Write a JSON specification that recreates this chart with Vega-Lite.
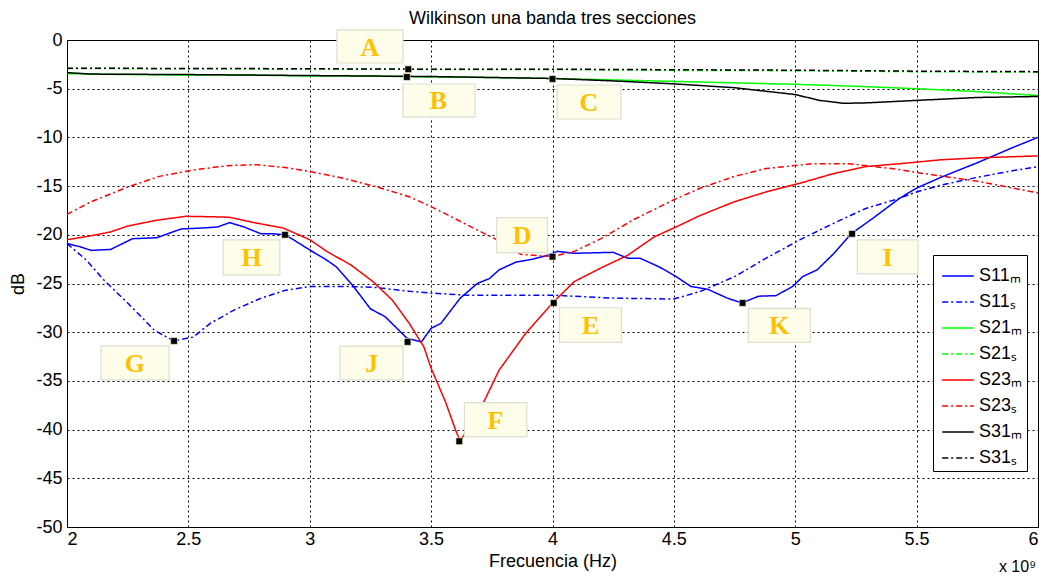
{
  "$schema": "https://vega.github.io/schema/vega-lite/v6.json",
  "width": 971,
  "height": 487,
  "autosize": {"type": "none"},
  "padding": {"left": 67, "top": 40, "right": 8, "bottom": 51},
  "background": "white",
  "title": {"text": "Wilkinson una banda tres secciones", "font": "Liberation Sans", "fontSize": 18, "fontWeight": "normal", "color": "#000", "offset": 1},
  "config": {
    "view": {"stroke": "#000", "strokeWidth": 1},
    "axis": {"labelFont": "Liberation Sans", "titleFont": "Liberation Sans", "labelFontSize": 18, "titleFontSize": 18, "titleFontWeight": "normal", "labelColor": "#000", "titleColor": "#000", "domainColor": "#000", "gridColor": "#000", "gridDash": [2, 3], "gridOpacity": 1, "ticks": false}
  },
  "datasets": {
    "curves": [
      {"s":"S11_M","f":2.0,"db":-20.9},{"s":"S11_M","f":2.05,"db":-21.2},{"s":"S11_M","f":2.1,"db":-21.6},{"s":"S11_M","f":2.18,"db":-21.5},{"s":"S11_M","f":2.27,"db":-20.4},{"s":"S11_M","f":2.37,"db":-20.3},{"s":"S11_M","f":2.47,"db":-19.4},{"s":"S11_M","f":2.56,"db":-19.3},{"s":"S11_M","f":2.62,"db":-19.2},{"s":"S11_M","f":2.67,"db":-18.75},{"s":"S11_M","f":2.73,"db":-19.2},{"s":"S11_M","f":2.8,"db":-19.9},{"s":"S11_M","f":2.85,"db":-19.9},{"s":"S11_M","f":2.9,"db":-20.0},{"s":"S11_M","f":2.99,"db":-21.4},{"s":"S11_M","f":3.07,"db":-22.6},{"s":"S11_M","f":3.11,"db":-23.3},{"s":"S11_M","f":3.18,"db":-25.3},{"s":"S11_M","f":3.25,"db":-27.6},{"s":"S11_M","f":3.31,"db":-28.4},{"s":"S11_M","f":3.4,"db":-30.6},{"s":"S11_M","f":3.46,"db":-31.0},{"s":"S11_M","f":3.5,"db":-29.6},{"s":"S11_M","f":3.54,"db":-29.1},{"s":"S11_M","f":3.62,"db":-26.5},{"s":"S11_M","f":3.69,"db":-25.0},{"s":"S11_M","f":3.74,"db":-24.5},{"s":"S11_M","f":3.78,"db":-23.6},{"s":"S11_M","f":3.85,"db":-22.8},{"s":"S11_M","f":3.92,"db":-22.5},{"s":"S11_M","f":3.98,"db":-22.1},{"s":"S11_M","f":4.02,"db":-21.7},{"s":"S11_M","f":4.09,"db":-21.9},{"s":"S11_M","f":4.25,"db":-21.8},{"s":"S11_M","f":4.31,"db":-22.4},{"s":"S11_M","f":4.36,"db":-22.4},{"s":"S11_M","f":4.44,"db":-23.3},{"s":"S11_M","f":4.51,"db":-24.3},{"s":"S11_M","f":4.57,"db":-25.3},{"s":"S11_M","f":4.64,"db":-25.6},{"s":"S11_M","f":4.72,"db":-26.5},{"s":"S11_M","f":4.78,"db":-27.0},{"s":"S11_M","f":4.85,"db":-26.3},{"s":"S11_M","f":4.92,"db":-26.25},{"s":"S11_M","f":4.99,"db":-25.3},{"s":"S11_M","f":5.03,"db":-24.3},{"s":"S11_M","f":5.09,"db":-23.6},{"s":"S11_M","f":5.16,"db":-21.9},{"s":"S11_M","f":5.23,"db":-19.9},{"s":"S11_M","f":5.32,"db":-18.3},{"s":"S11_M","f":5.43,"db":-16.25},{"s":"S11_M","f":5.5,"db":-15.2},{"s":"S11_M","f":5.6,"db":-14.1},{"s":"S11_M","f":5.75,"db":-12.6},{"s":"S11_M","f":5.9,"db":-11.0},{"s":"S11_M","f":6.0,"db":-10.0},
      {"s":"S11_S","f":2.0,"db":-20.9},{"s":"S11_S","f":2.08,"db":-22.6},{"s":"S11_S","f":2.15,"db":-24.6},{"s":"S11_S","f":2.25,"db":-27.0},{"s":"S11_S","f":2.36,"db":-29.8},{"s":"S11_S","f":2.44,"db":-30.9},{"s":"S11_S","f":2.52,"db":-30.5},{"s":"S11_S","f":2.59,"db":-29.1},{"s":"S11_S","f":2.69,"db":-27.7},{"s":"S11_S","f":2.8,"db":-26.5},{"s":"S11_S","f":2.9,"db":-25.7},{"s":"S11_S","f":3.0,"db":-25.3},{"s":"S11_S","f":3.14,"db":-25.3},{"s":"S11_S","f":3.27,"db":-25.4},{"s":"S11_S","f":3.41,"db":-25.8},{"s":"S11_S","f":3.51,"db":-26.0},{"s":"S11_S","f":3.65,"db":-26.2},{"s":"S11_S","f":4.0,"db":-26.2},{"s":"S11_S","f":4.25,"db":-26.5},{"s":"S11_S","f":4.5,"db":-26.6},{"s":"S11_S","f":4.61,"db":-25.8},{"s":"S11_S","f":4.75,"db":-24.3},{"s":"S11_S","f":4.88,"db":-22.4},{"s":"S11_S","f":5.02,"db":-20.5},{"s":"S11_S","f":5.16,"db":-18.8},{"s":"S11_S","f":5.29,"db":-17.3},{"s":"S11_S","f":5.43,"db":-16.25},{"s":"S11_S","f":5.5,"db":-15.6},{"s":"S11_S","f":5.6,"db":-14.9},{"s":"S11_S","f":5.75,"db":-14.1},{"s":"S11_S","f":5.9,"db":-13.4},{"s":"S11_S","f":6.0,"db":-13.0},
      {"s":"S21_M","f":2.0,"db":-3.45},{"s":"S21_M","f":2.25,"db":-3.55},{"s":"S21_M","f":2.5,"db":-3.6},{"s":"S21_M","f":2.75,"db":-3.6},{"s":"S21_M","f":3.0,"db":-3.7},{"s":"S21_M","f":3.25,"db":-3.7},{"s":"S21_M","f":3.5,"db":-3.8},{"s":"S21_M","f":3.75,"db":-3.85},{"s":"S21_M","f":4.0,"db":-3.95},{"s":"S21_M","f":4.25,"db":-4.1},{"s":"S21_M","f":4.5,"db":-4.25},{"s":"S21_M","f":4.75,"db":-4.4},{"s":"S21_M","f":5.0,"db":-4.55},{"s":"S21_M","f":5.25,"db":-4.75},{"s":"S21_M","f":5.5,"db":-5.0},{"s":"S21_M","f":5.75,"db":-5.3},{"s":"S21_M","f":6.0,"db":-5.7},
      {"s":"S21_S","f":2.0,"db":-2.93},{"s":"S21_S","f":2.5,"db":-2.95},{"s":"S21_S","f":3.0,"db":-2.98},{"s":"S21_S","f":3.5,"db":-3.02},{"s":"S21_S","f":4.0,"db":-3.03},{"s":"S21_S","f":4.5,"db":-3.12},{"s":"S21_S","f":5.0,"db":-3.15},{"s":"S21_S","f":5.5,"db":-3.25},{"s":"S21_S","f":6.0,"db":-3.3},
      {"s":"S23_M","f":2.0,"db":-20.5},{"s":"S23_M","f":2.1,"db":-20.1},{"s":"S23_M","f":2.18,"db":-19.7},{"s":"S23_M","f":2.25,"db":-19.1},{"s":"S23_M","f":2.37,"db":-18.5},{"s":"S23_M","f":2.49,"db":-18.1},{"s":"S23_M","f":2.6,"db":-18.15},{"s":"S23_M","f":2.67,"db":-18.2},{"s":"S23_M","f":2.77,"db":-18.75},{"s":"S23_M","f":2.89,"db":-19.3},{"s":"S23_M","f":3.0,"db":-20.5},{"s":"S23_M","f":3.07,"db":-21.7},{"s":"S23_M","f":3.17,"db":-23.1},{"s":"S23_M","f":3.26,"db":-24.8},{"s":"S23_M","f":3.34,"db":-26.7},{"s":"S23_M","f":3.41,"db":-29.1},{"s":"S23_M","f":3.47,"db":-31.5},{"s":"S23_M","f":3.5,"db":-33.7},{"s":"S23_M","f":3.56,"db":-37.2},{"s":"S23_M","f":3.6,"db":-40.0},{"s":"S23_M","f":3.62,"db":-41.2},{"s":"S23_M","f":3.66,"db":-39.5},{"s":"S23_M","f":3.72,"db":-37.0},{"s":"S23_M","f":3.78,"db":-33.9},{"s":"S23_M","f":3.89,"db":-30.1},{"s":"S23_M","f":4.0,"db":-27.0},{"s":"S23_M","f":4.09,"db":-24.8},{"s":"S23_M","f":4.2,"db":-23.4},{"s":"S23_M","f":4.31,"db":-22.1},{"s":"S23_M","f":4.42,"db":-20.2},{"s":"S23_M","f":4.5,"db":-19.3},{"s":"S23_M","f":4.61,"db":-18.0},{"s":"S23_M","f":4.75,"db":-16.6},{"s":"S23_M","f":4.88,"db":-15.6},{"s":"S23_M","f":5.02,"db":-14.7},{"s":"S23_M","f":5.16,"db":-13.7},{"s":"S23_M","f":5.29,"db":-13.0},{"s":"S23_M","f":5.43,"db":-12.7},{"s":"S23_M","f":5.6,"db":-12.3},{"s":"S23_M","f":5.75,"db":-12.1},{"s":"S23_M","f":6.0,"db":-11.9},
      {"s":"S23_S","f":2.0,"db":-17.9},{"s":"S23_S","f":2.1,"db":-16.6},{"s":"S23_S","f":2.25,"db":-15.1},{"s":"S23_S","f":2.38,"db":-14.0},{"s":"S23_S","f":2.52,"db":-13.35},{"s":"S23_S","f":2.66,"db":-12.9},{"s":"S23_S","f":2.78,"db":-12.8},{"s":"S23_S","f":2.9,"db":-13.1},{"s":"S23_S","f":3.0,"db":-13.5},{"s":"S23_S","f":3.14,"db":-14.2},{"s":"S23_S","f":3.28,"db":-15.1},{"s":"S23_S","f":3.41,"db":-16.1},{"s":"S23_S","f":3.5,"db":-17.1},{"s":"S23_S","f":3.65,"db":-19.0},{"s":"S23_S","f":3.77,"db":-20.5},{"s":"S23_S","f":3.87,"db":-22.0},{"s":"S23_S","f":4.0,"db":-22.25},{"s":"S23_S","f":4.09,"db":-21.7},{"s":"S23_S","f":4.2,"db":-20.4},{"s":"S23_S","f":4.33,"db":-18.5},{"s":"S23_S","f":4.5,"db":-16.4},{"s":"S23_S","f":4.61,"db":-15.2},{"s":"S23_S","f":4.75,"db":-14.0},{"s":"S23_S","f":4.88,"db":-13.2},{"s":"S23_S","f":5.07,"db":-12.7},{"s":"S23_S","f":5.22,"db":-12.7},{"s":"S23_S","f":5.43,"db":-13.3},{"s":"S23_S","f":5.5,"db":-13.6},{"s":"S23_S","f":5.75,"db":-14.5},{"s":"S23_S","f":6.0,"db":-15.7},
      {"s":"S31_M","f":2.0,"db":-3.35},{"s":"S31_M","f":2.1,"db":-3.5},{"s":"S31_M","f":2.5,"db":-3.55},{"s":"S31_M","f":2.75,"db":-3.6},{"s":"S31_M","f":3.0,"db":-3.65},{"s":"S31_M","f":3.25,"db":-3.7},{"s":"S31_M","f":3.5,"db":-3.75},{"s":"S31_M","f":3.75,"db":-3.85},{"s":"S31_M","f":4.0,"db":-3.95},{"s":"S31_M","f":4.25,"db":-4.2},{"s":"S31_M","f":4.5,"db":-4.5},{"s":"S31_M","f":4.75,"db":-4.9},{"s":"S31_M","f":5.0,"db":-5.6},{"s":"S31_M","f":5.1,"db":-6.2},{"s":"S31_M","f":5.2,"db":-6.5},{"s":"S31_M","f":5.3,"db":-6.45},{"s":"S31_M","f":5.5,"db":-6.2},{"s":"S31_M","f":5.75,"db":-5.9},{"s":"S31_M","f":6.0,"db":-5.8},
      {"s":"S31_S","f":2.0,"db":-2.9},{"s":"S31_S","f":2.5,"db":-2.92},{"s":"S31_S","f":3.0,"db":-2.95},{"s":"S31_S","f":3.5,"db":-3.0},{"s":"S31_S","f":4.0,"db":-3.0},{"s":"S31_S","f":4.5,"db":-3.05},{"s":"S31_S","f":5.0,"db":-3.1},{"s":"S31_S","f":5.5,"db":-3.2},{"s":"S31_S","f":6.0,"db":-3.25}
    ],
    "boxes": [
      {"lab":"A","x1":3.112,"x2":3.384,"y1":1.03,"y2":-2.36,"lx":3.248,"ly":-0.67},
      {"lab":"B","x1":3.384,"x2":3.681,"y1":-4.52,"y2":-7.91,"lx":3.53,"ly":-6.2},
      {"lab":"C","x1":4.019,"x2":4.282,"y1":-4.62,"y2":-8.11,"lx":4.15,"ly":-6.37},
      {"lab":"D","x1":3.77,"x2":3.979,"y1":-18.24,"y2":-21.84,"lx":3.875,"ly":-20.04},
      {"lab":"E","x1":4.029,"x2":4.284,"y1":-27.49,"y2":-31.05,"lx":4.157,"ly":-29.27},
      {"lab":"F","x1":3.637,"x2":3.894,"y1":-37.24,"y2":-40.73,"lx":3.765,"ly":-38.98},
      {"lab":"G","x1":2.14,"x2":2.421,"y1":-31.4,"y2":-34.9,"lx":2.28,"ly":-33.15},
      {"lab":"H","x1":2.643,"x2":2.877,"y1":-20.53,"y2":-24.13,"lx":2.76,"ly":-22.33},
      {"lab":"I","x1":5.256,"x2":5.506,"y1":-20.53,"y2":-24.02,"lx":5.38,"ly":-22.28},
      {"lab":"J","x1":3.125,"x2":3.384,"y1":-31.42,"y2":-34.9,"lx":3.255,"ly":-33.16},
      {"lab":"K","x1":4.807,"x2":5.062,"y1":-27.55,"y2":-31.04,"lx":4.935,"ly":-29.3}
    ],
    "markers": [
      {"lab":"A","f":3.406,"db":-3.0},{"lab":"B","f":3.4,"db":-3.8},{"lab":"C","f":4.0,"db":-4.0},{"lab":"D","f":4.0,"db":-22.25},{"lab":"E","f":4.005,"db":-27.0},{"lab":"F","f":3.616,"db":-41.2},{"lab":"G","f":2.441,"db":-30.9},{"lab":"H","f":2.898,"db":-20.0},{"lab":"I","f":5.234,"db":-19.9},{"lab":"J","f":3.403,"db":-31.0},{"lab":"K","f":4.783,"db":-27.0}
    ],
    "note": [{"f": 6, "db": -50, "txt": "x 10⁹"}]
  },
  "layer": [
    {
      "data": {"name": "curves"},
      "mark": {"type": "line", "strokeWidth": 1.5},
      "encoding": {
        "x": {"field": "f", "type": "quantitative", "scale": {"domain": [2, 6], "nice": false, "zero": false}, "axis": {"title": "Frecuencia (Hz)", "values": [2, 2.5, 3, 3.5, 4, 4.5, 5, 5.5, 6], "labelExpr": "'' + datum.value", "labelPadding": 3, "titlePadding": 4}},
        "y": {"field": "db", "type": "quantitative", "scale": {"domain": [-50, 0], "nice": false, "zero": false}, "axis": {"title": "dB", "values": [-50, -45, -40, -35, -30, -25, -20, -15, -10, -5, 0], "labelExpr": "'' + datum.value", "labelPadding": 5, "titlePadding": 8}},
        "color": {"field": "s", "type": "nominal", "title": null,
          "scale": {"domain": ["S11_M", "S11_S", "S21_M", "S21_S", "S23_M", "S23_S", "S31_M", "S31_S"], "range": ["#0000FF", "#0000FF", "#00FF00", "#00FF00", "#FF0000", "#FF0000", "#000000", "#000000"]},
          "legend": {"orient": "none", "legendX": 866, "legendY": 215, "strokeColor": "#000", "fillColor": "#fff", "padding": 4, "symbolType": "stroke", "symbolSize": 1000, "symbolStrokeWidth": 1.5, "symbolOffset": 4, "labelOffset": 4, "rowPadding": 0, "labelFont": "Liberation Sans", "labelFontSize": 18, "labelColor": "#000", "labelExpr": "replace(replace(datum.label, '_M', 'ₘ'), '_S', 'ₛ')"}},
        "strokeDash": {"field": "s", "type": "nominal", "title": null,
          "scale": {"domain": ["S11_M", "S11_S", "S21_M", "S21_S", "S23_M", "S23_S", "S31_M", "S31_S"], "range": [[1, 0], [6, 3, 2, 3], [1, 0], [6, 3, 2, 3], [1, 0], [6, 3, 2, 3], [1, 0], [6, 3, 2, 3]]},
          "legend": {"orient": "none", "legendX": 866, "legendY": 215, "strokeColor": "#000", "fillColor": "#fff", "padding": 4, "symbolType": "stroke", "symbolSize": 1000, "symbolStrokeWidth": 1.5, "symbolOffset": 4, "labelOffset": 4, "rowPadding": 0, "labelFont": "Liberation Sans", "labelFontSize": 18, "labelColor": "#000", "labelExpr": "replace(replace(datum.label, '_M', 'ₘ'), '_S', 'ₛ')"}}
      }
    },
    {
      "data": {"name": "markers"},
      "mark": {"type": "point", "shape": "square", "filled": true, "size": 45, "fill": "#000", "stroke": "#FFFFCC", "strokeWidth": 0.6, "opacity": 1},
      "encoding": {"x": {"field": "f", "type": "quantitative"}, "y": {"field": "db", "type": "quantitative"}}
    },
    {
      "data": {"name": "boxes"},
      "mark": {"type": "rect", "fill": "#FDFDE9", "stroke": "#DEDED0", "strokeWidth": 1.2},
      "encoding": {"x": {"field": "x1", "type": "quantitative"}, "x2": {"field": "x2"}, "y": {"field": "y1", "type": "quantitative"}, "y2": {"field": "y2"}}
    },
    {
      "data": {"name": "boxes"},
      "mark": {"type": "text", "font": "Liberation Serif", "fontSize": 26, "fontWeight": "bold", "color": "#FFC000", "align": "center", "baseline": "middle", "dy": 1},
      "encoding": {"x": {"field": "lx", "type": "quantitative"}, "y": {"field": "ly", "type": "quantitative"}, "text": {"field": "lab"}}
    },
    {
      "data": {"name": "note"},
      "mark": {"type": "text", "font": "Liberation Sans", "fontSize": 16, "color": "#000", "align": "right", "baseline": "alphabetic", "dy": 45, "dx": -2},
      "encoding": {"x": {"field": "f", "type": "quantitative"}, "y": {"field": "db", "type": "quantitative"}, "text": {"field": "txt"}}
    }
  ]
}
